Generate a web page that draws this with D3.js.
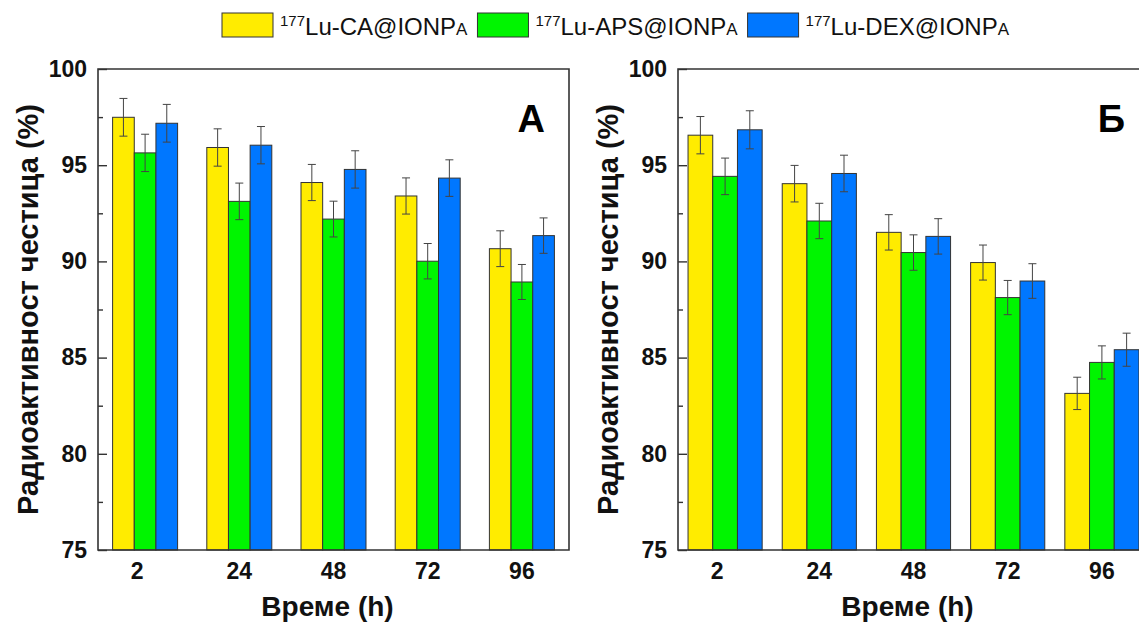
<!DOCTYPE html>
<html>
<head>
<meta charset="utf-8">
<script src="https://cdn.jsdelivr.net/npm/d3@7"></script>
<style>
  body { margin: 0; background: #fff; }
  svg { font-family: "Liberation Sans", Arial, sans-serif; }
</style>
</head>
<body>
<svg width="1139" height="624"></svg>
<script>
var categories = ["2", "24", "48", "72", "96"];
var series = ["CA", "APS", "DEX"];
var seriesColors = ["#ffec00", "#00f500", "#0077ff"];
var yTicks = [75, 80, 85, 90, 95, 100];
var yMinor = [77.5, 82.5, 87.5, 92.5, 97.5];

// panel A
var valuesA_CA  = [97.49, 95.92, 94.10, 93.40, 90.66];
var valuesA_APS = [95.64, 93.12, 92.20, 90.01, 88.93];
var valuesA_DEX = [97.18, 96.04, 94.78, 94.33, 91.34];
var errA_CA  = [0.98, 0.97, 0.94, 0.94, 0.93];
var errA_APS = [0.97, 0.95, 0.93, 0.92, 0.91];
var errA_DEX = [0.98, 0.97, 0.97, 0.95, 0.92];

// panel B
var valuesB_CA  = [96.56, 94.04, 91.51, 89.94, 83.14];
var valuesB_APS = [94.42, 92.10, 90.46, 88.12, 84.75];
var valuesB_DEX = [96.84, 94.57, 91.30, 88.98, 85.41];
var errB_CA  = [0.97, 0.95, 0.92, 0.91, 0.84];
var errB_APS = [0.95, 0.92, 0.92, 0.89, 0.86];
var errB_DEX = [0.99, 0.95, 0.92, 0.90, 0.86];

var svg = d3.select("svg");
var plotTop = 69, plotBottom = 550, axisColor = "#333";

function panel(left, right, pad, letter, vals, errs) {
  var x0 = d3.scaleBand().domain(categories).range([left, right])
    .paddingInner(pad).paddingOuter(pad / 2);
  var x1 = d3.scaleBand().domain(series).range([0, x0.bandwidth()]);
  var y = d3.scaleLinear().domain([75, 100]).range([plotBottom, plotTop]);

  var g = svg.append("g");

  var rows = [];
  categories.forEach(function(c, i) {
    series.forEach(function(s, j) {
      rows.push({cat: c, ser: s, color: seriesColors[j], v: vals[j][i], e: errs[j][i]});
    });
  });

  g.selectAll("rect.bar").data(rows).enter().append("rect")
    .attr("class", "bar")
    .attr("x", function(d) { return x0(d.cat) + x1(d.ser); })
    .attr("y", function(d) { return y(d.v); })
    .attr("width", x1.bandwidth())
    .attr("height", function(d) { return y(75) - y(d.v); })
    .attr("fill", function(d) { return d.color; })
    .attr("stroke", "#333")
    .attr("stroke-width", 1);

  var eb = g.selectAll("g.err").data(rows).enter().append("g")
    .attr("class", "err")
    .attr("stroke", "#444")
    .attr("stroke-width", 1);
  eb.append("line")
    .attr("x1", function(d) { return x0(d.cat) + x1(d.ser) + x1.bandwidth() / 2; })
    .attr("x2", function(d) { return x0(d.cat) + x1(d.ser) + x1.bandwidth() / 2; })
    .attr("y1", function(d) { return y(d.v + d.e); })
    .attr("y2", function(d) { return y(d.v - d.e); });
  [1, -1].forEach(function(k) {
    eb.append("line")
      .attr("x1", function(d) { return x0(d.cat) + x1(d.ser) + x1.bandwidth() / 2 - 4; })
      .attr("x2", function(d) { return x0(d.cat) + x1(d.ser) + x1.bandwidth() / 2 + 4; })
      .attr("y1", function(d) { return y(d.v + k * d.e); })
      .attr("y2", function(d) { return y(d.v + k * d.e); });
  });

  // frame
  g.append("path")
    .attr("d", "M" + left + "," + plotBottom + "V" + plotTop + "H" + right + "V" + plotBottom + "Z")
    .attr("fill", "none").attr("stroke", axisColor).attr("stroke-width", 1.6);

  var ya = g.append("g").attr("transform", "translate(" + left + ",0)")
    .call(d3.axisLeft(y).tickValues(yTicks).tickSize(-9).tickPadding(11));
  ya.select(".domain").remove();
  ya.selectAll("line").attr("stroke", axisColor).attr("stroke-width", 1.4);
  ya.selectAll("text").attr("font-size", 23).attr("font-weight", "bold").attr("fill", "#111");

  var ym = g.append("g").attr("transform", "translate(" + left + ",0)")
    .call(d3.axisLeft(y).tickValues(yMinor).tickSize(-5).tickFormat(""));
  ym.select(".domain").remove();
  ym.selectAll("line").attr("stroke", axisColor).attr("stroke-width", 1.4);

  var xa = g.append("g").attr("transform", "translate(0," + plotBottom + ")")
    .call(d3.axisBottom(x0).tickSize(0).tickPadding(13));
  xa.select(".domain").remove();
  xa.selectAll("text").attr("font-size", 23).attr("font-weight", "bold").attr("fill", "#111")
    .attr("dx", function(d, i) { return i === 0 ? -8 : 0; });

  g.append("text")
    .attr("x", (left + right) / 2 - 6)
    .attr("y", 616)
    .attr("text-anchor", "middle")
    .attr("font-size", 28).attr("font-weight", "bold").attr("fill", "#111")
    .text("Време (h)");

  g.append("text")
    .attr("transform", "translate(" + (left - 60) + "," + ((plotTop + plotBottom) / 2) + ") rotate(-90)")
    .attr("text-anchor", "middle")
    .attr("font-size", 29).attr("font-weight", "bold").attr("fill", "#111")
    .text("Радиоактивност честица (%)");

  g.append("text")
    .attr("x", right - 24).attr("y", 132)
    .attr("text-anchor", "end")
    .attr("font-size", 38).attr("font-weight", "bold").attr("fill", "#000")
    .text(letter);
}

panel(98, 569, 0.31, "А",
  [valuesA_CA, valuesA_APS, valuesA_DEX], [errA_CA, errA_APS, errA_DEX]);
panel(678, 1149, 0.213, "Б",
  [valuesB_CA, valuesB_APS, valuesB_DEX], [errB_CA, errB_APS, errB_DEX]);

// legend
var legendNames = ["CA", "APS", "DEX"];
var lx = 222;
legendNames.forEach(function(n, i) {
  var lg = svg.append("g");
  lg.append("rect").attr("x", lx).attr("y", 13).attr("width", 51).attr("height", 24)
    .attr("fill", seriesColors[i]).attr("stroke", "#333").attr("stroke-width", 1);
  var t = lg.append("text").attr("x", lx + 58).attr("y", 35)
    .attr("font-size", 24).attr("fill", "#111");
  t.append("tspan").attr("font-size", 15).attr("dy", -9).text("177");
  t.append("tspan").attr("dy", 9).text("Lu-" + n + "@IONP");
  t.append("tspan").attr("font-size", 17).text("A");
  lx = lx + 58 + t.node().getComputedTextLength() + 10;
});
</script>
</body>
</html>
